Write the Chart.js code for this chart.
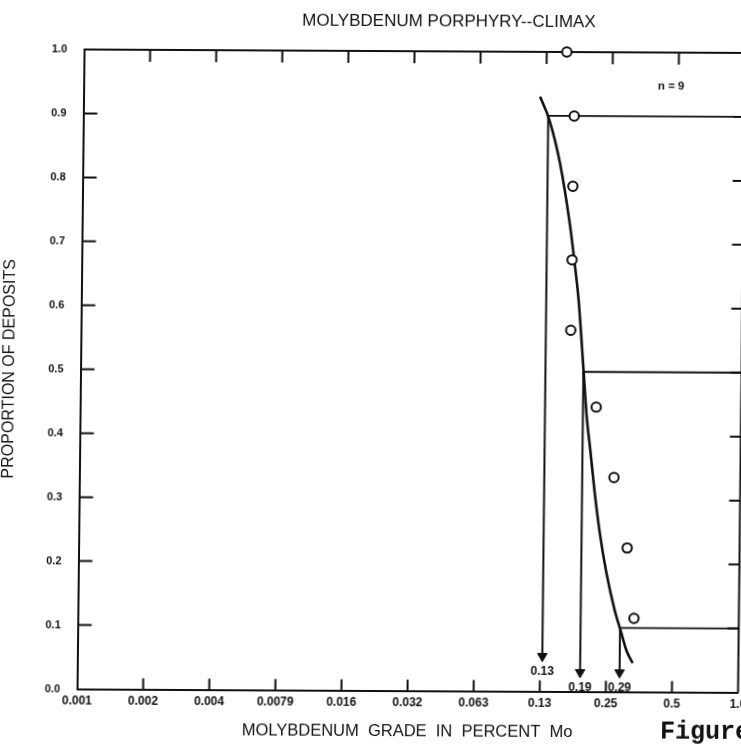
<!DOCTYPE html>
<html>
<head>
<meta charset="utf-8">
<script src="https://cdn.jsdelivr.net/npm/chart.js@4.4.1/dist/chart.umd.min.js"></script>
<style>
html,body{margin:0;padding:0;background:#fff;overflow:hidden;width:741px;height:749px;}
#wrap{position:absolute;left:0;top:0;width:760px;height:749px;transform-origin:370.5px 374.5px;transform:rotate(0.3deg) skewX(-0.33deg);}
</style>
</head>
<body>
<div id="wrap"><canvas id="c"></canvas></div>
<script>
// ---- text ----
const chartTitle = 'MOLYBDENUM PORPHYRY--CLIMAX';
const xAxisTitle = 'MOLYBDENUM  GRADE  IN  PERCENT  Mo';
const yAxisTitle = 'PROPORTION OF DEPOSITS';
const sampleLabel = 'n = 9';
const figureLabel = 'Figure';

// ---- ticks ----
const xTickValues = [0.001, 0.002, 0.004, 0.008, 0.016, 0.032, 0.064, 0.128, 0.256, 0.512, 1.024];
const xTickLabels = ['0.001', '0.002', '0.004', '0.0079', '0.016', '0.032', '0.063', '0.13', '0.25', '0.5', '1.0'];
const yTickValues = [0, 0.1, 0.2, 0.3, 0.4, 0.5, 0.6, 0.7, 0.8, 0.9, 1.0];
const yTickLabels = ['0.0', '0.1', '0.2', '0.3', '0.4', '0.5', '0.6', '0.7', '0.8', '0.9', '1.0'];

// ---- deposits (open circles) ----
const depositGrades = [0.158, 0.172, 0.171, 0.171, 0.170, 0.224, 0.272, 0.315, 0.341];
const depositProportions = [1.0, 0.90, 0.79, 0.675, 0.565, 0.445, 0.335, 0.225, 0.115];

// ---- fitted curve ----
const curveGrades = [0.120, 0.1325, 0.149, 0.1665, 0.176, 0.184, 0.190, 0.196, 0.203, 0.2115, 0.222, 0.236, 0.254, 0.278, 0.298, 0.316, 0.338];
const curveProportions = [0.930, 0.894, 0.826, 0.730, 0.668, 0.612, 0.555, 0.495, 0.430, 0.378, 0.315, 0.248, 0.186, 0.128, 0.094, 0.065, 0.045];

// ---- percentile markers ----
const percentileGrades = [0.131, 0.195, 0.295];
const percentileLevels = [0.9, 0.5, 0.1];
const percentileLabels = ['0.13', '0.19', '0.29'];
const arrowTipLevels = [0.055, 0.030, 0.030];
const xMax = 1.024;

const FONT = "'Liberation Sans', Arial, Helvetica, sans-serif";
const INK = '#111';

const datasets = [];
datasets.push({
  label: 'deposits',
  data: depositGrades.map((g, i) => ({x: g, y: depositProportions[i]})),
  showLine: false,
  clip: false,
  pointRadius: 4.7,
  pointBorderWidth: 2,
  pointBackgroundColor: '#fff',
  pointBorderColor: INK
});
datasets.push({
  label: 'curve',
  data: curveGrades.map((g, i) => ({x: g, y: curveProportions[i]})),
  borderColor: INK,
  borderWidth: 2.6,
  pointRadius: 0,
  cubicInterpolationMode: 'monotone'
});
percentileGrades.forEach((g, i) => {
  datasets.push({
    label: 'level' + i,
    data: [{x: g, y: percentileLevels[i]}, {x: xMax, y: percentileLevels[i]}],
    borderColor: INK,
    borderWidth: 1.8,
    pointRadius: 0
  });
});
percentileGrades.forEach((g, i) => {
  datasets.push({
    label: 'arrow' + i,
    data: [{x: g, y: percentileLevels[i]}, {x: g, y: arrowTipLevels[i]}],
    borderColor: INK,
    borderWidth: 2,
    pointRadius: [0, 5.5],
    pointStyle: 'triangle',
    pointRotation: 180,
    pointBackgroundColor: INK,
    pointBorderColor: INK,
    pointBorderWidth: 1
  });
});

const decor = {
  id: 'decor',
  beforeDatasetsDraw(chart) {
    const {ctx, chartArea: a, scales: {x, y}} = chart;
    ctx.save();
    ctx.strokeStyle = INK;
    ctx.lineWidth = 2;
    ctx.beginPath();
    ctx.moveTo(a.left, a.top); ctx.lineTo(a.right, a.top); ctx.lineTo(a.right, a.bottom);
    ctx.stroke();
    ctx.beginPath();
    x.ticks.forEach((t, i) => {
      if (i === 0 || i === x.ticks.length - 1) return;
      const px = x.getPixelForValue(t.value);
      ctx.moveTo(px, a.bottom); ctx.lineTo(px, a.bottom - 11);
      ctx.moveTo(px, a.top); ctx.lineTo(px, a.top + 12);
    });
    y.ticks.forEach((t, i) => {
      if (i === 0 || i === y.ticks.length - 1) return;
      const py = y.getPixelForValue(t.value);
      ctx.moveTo(a.left, py); ctx.lineTo(a.left + 14, py);
      ctx.moveTo(a.right, py); ctx.lineTo(a.right - 11, py);
    });
    ctx.stroke();
    ctx.restore();
  },
  afterDraw(chart) {
    const {ctx, scales: {x, y}} = chart;
    ctx.save();
    ctx.fillStyle = INK;
    ctx.textAlign = 'center';
    ctx.textBaseline = 'middle';
    ctx.font = '17px ' + FONT;
    ctx.fillText(chartTitle, 445, 21);
    ctx.font = 'bold 11.5px ' + FONT;
    ctx.fillText(sampleLabel, 668, 85);
    ctx.font = 'bold 12px ' + FONT;
    percentileGrades.forEach((g, i) => {
      ctx.fillText(percentileLabels[i], x.getPixelForValue(g), y.getPixelForValue(arrowTipLevels[i]) + 15.5);
    });
    ctx.textAlign = 'left';
    ctx.font = "bold 25px 'Liberation Mono', 'Courier New', monospace";
    ctx.fillText(figureLabel, 664, 731);
    ctx.restore();
  }
};

new Chart(document.getElementById('c'), {
  type: 'line',
  data: {datasets},
  plugins: [decor],
  options: {
    responsive: true,
    maintainAspectRatio: false,
    animation: false,
    devicePixelRatio: 1,
    layout: {padding: {left: 0, top: 51, right: 18.5, bottom: 0}},
    plugins: {legend: {display: false}, tooltip: {enabled: false}, title: {display: false}},
    scales: {
      x: {
        type: 'logarithmic',
        min: 0.001,
        max: xMax,
        position: 'bottom',
        afterBuildTicks: s => { s.ticks = xTickValues.map(v => ({value: v})); },
        afterFit: s => { s.height = 58.5; s.paddingLeft = 0; s.paddingRight = 0; },
        ticks: {
          autoSkip: false, maxRotation: 0, minRotation: 0, padding: 5, color: INK,
          font: {family: FONT, size: 12, weight: 'bold'},
          callback: (v, i) => xTickLabels[i]
        },
        grid: {display: false, drawTicks: false},
        border: {display: true, color: INK, width: 2},
        title: {display: true, text: xAxisTitle, color: INK, font: {family: FONT, size: 16.5}, padding: {top: 0, bottom: 8}}
      },
      y: {
        type: 'linear',
        min: 0,
        max: 1,
        afterBuildTicks: s => { s.ticks = yTickValues.map(v => ({value: v})); },
        afterFit: s => { s.width = 80.5; },
        ticks: {
          padding: 17, color: INK,
          font: {family: FONT, size: 11, weight: 'bold'},
          callback: (v, i) => yTickLabels[i]
        },
        grid: {display: false, drawTicks: false},
        border: {display: true, color: INK, width: 2},
        title: {display: true, text: yAxisTitle, color: INK, font: {family: FONT, size: 16}, padding: 0}
      }
    }
  }
});
</script>
</body>
</html>
